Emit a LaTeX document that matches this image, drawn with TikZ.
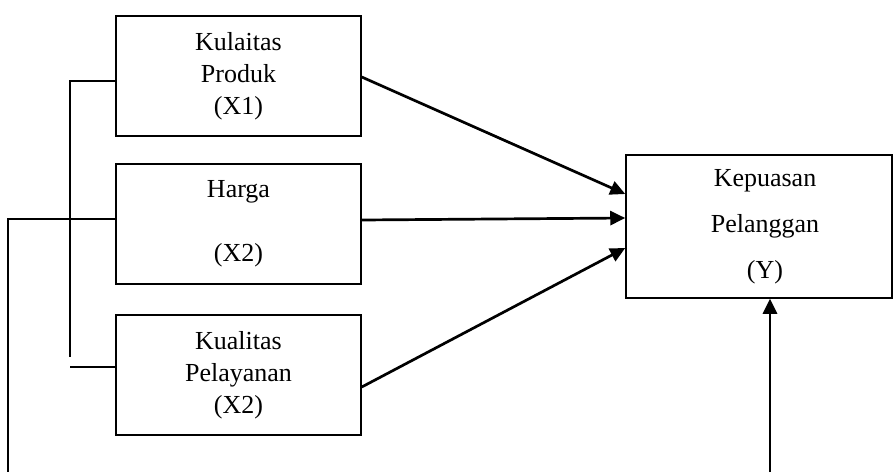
\documentclass[tikz,border=0pt]{standalone}
\usepackage{fontspec}
\setmainfont{Liberation Serif}
\usetikzlibrary{arrows.meta}

\begin{document}
\begin{tikzpicture}[x=1pt,y=-1pt,
  box/.style = {shape=rectangle, draw, line width=1.5pt,
    minimum width=245pt, minimum height=120pt, inner sep=0pt,
    align=center, font=\fontsize{26}{32}\selectfont},
  arr/.style = {line width=2.7pt, -{Triangle[length=15pt,width=14pt]}},
  link/.style = {line width=1.3pt}]
  \useasboundingbox (0,0) rectangle (894,472);
  % independent variables
  \node[box] (x1) at (238.5,76) {Kulaitas\\Produk\\(X1)};
  \node[box] (x2) at (238.5,224) {Harga\\[32pt](X2)};
  \node[box] (x3) at (238.5,375) {Kualitas\\Pelayanan\\(X2)};
  % dependent variable
  \node[box, minimum width=266pt, minimum height=143pt,
    font=\fontsize{26}{46}\selectfont] (y) at (759,226.5) {\hspace{12pt}Kepuasan\\\hspace{12pt}Pelanggan\\\hspace{12pt}(Y)};
  \draw[arr] ([yshift=-1pt]x1.east) -- ([yshift=32.5pt]y.west);
  \draw[arr] ([yshift=4pt]x2.east) -- ([yshift=8.5pt]y.west);
  \draw[arr] ([yshift=-12pt]x3.east) -- ([yshift=-21.5pt]y.west);
  \coordinate (ybot) at (770,472);
  \draw[arr] (ybot) -- (y.south -| ybot);
  % left connectors
  \coordinate (lbot) at (8,472);
  \draw[link] ([yshift=5pt]x2.west) -| (lbot);
  \coordinate (bk) at (70,357);
  \coordinate (bk2) at (70,367);
  \draw[link] ([yshift=-5pt]x1.west) -| (bk);
  \draw[link] (bk2) -- (bk2 -| x3.west);
\end{tikzpicture}
\end{document}
